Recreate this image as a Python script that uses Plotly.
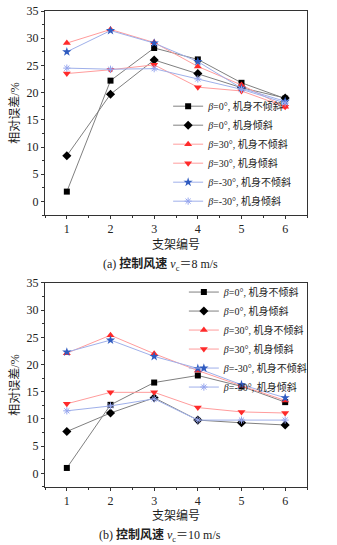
import plotly.graph_objects as go

stands = [1, 2, 3, 4, 5, 6]

# (a) control wind speed 8 m/s
a_b0_upright = [1.8, 22.2, 28.2, 26.1, 21.8, 18.9]
a_b0_tilted = [8.4, 19.7, 26.0, 23.5, 20.9, 19.0]
a_b30_upright = [29.1, 31.6, 29.2, 24.8, 21.4, 17.4]
a_b30_tilted = [23.5, 24.2, 25.1, 21.0, 20.3, 17.4]
a_bm30_upright = [27.5, 31.4, 29.1, 25.7, 20.8, 18.4]
a_bm30_tilted = [24.5, 24.3, 24.4, 22.5, 20.6, 18.1]

# (b) control wind speed 10 m/s
b_b0_upright = [1.0, 12.6, 16.7, 18.0, 16.0, 13.1]
b_b0_tilted = [7.7, 11.1, 13.9, 9.8, 9.3, 8.9]
b_b30_upright = [22.1, 25.4, 22.0, 18.9, 16.1, 13.4]
b_b30_tilted = [12.8, 14.9, 14.9, 12.1, 11.3, 11.1]
b_bm30_upright = [22.3, 24.5, 21.5, 19.3, 16.3, 13.9]
b_bm30_tilted = [11.5, 12.4, 13.7, 9.8, 9.8, 9.8]

names = [
    "<i>β</i>=0°, 机身不倾斜",
    "<i>β</i>=0°, 机身倾斜",
    "<i>β</i>=30°, 机身不倾斜",
    "<i>β</i>=30°, 机身倾斜",
    "<i>β</i>=-30°, 机身不倾斜",
    "<i>β</i>=-30°, 机身倾斜",
]
x_title = "支架编号"
y_title = "相对误差/%"
caption_a = "(a) <b>控制风速</b> <i>v</i><sub>c</sub>＝8 m/s"
caption_b = "(b) <b>控制风速</b> <i>v</i><sub>c</sub>＝10 m/s"

styles = [
    dict(symbol="square", mcolor="#000000", lcolor="#808080", size=6),
    dict(symbol="diamond", mcolor="#000000", lcolor="#808080", size=7),
    dict(symbol="triangle-up", mcolor="#ff2a2a", lcolor="#ff9c9c", size=7),
    dict(symbol="triangle-down", mcolor="#ff2a2a", lcolor="#ff9c9c", size=7),
    dict(symbol="star", mcolor="#2f5bc0", lcolor="#9fb0ea", size=7),
    dict(symbol="asterisk-open", mcolor="#95a5ee", lcolor="#9fb0ea", size=6),
]

FONT = "Liberation Serif, Times New Roman, Noto Sans CJK SC, serif"

fig = go.Figure()

series_sets = [
    ([a_b0_upright, a_b0_tilted, a_b30_upright, a_b30_tilted, a_bm30_upright, a_bm30_tilted], "x", "y", "legend"),
    ([b_b0_upright, b_b0_tilted, b_b30_upright, b_b30_tilted, b_bm30_upright, b_bm30_tilted], "x2", "y2", "legend2"),
]

for data, xa, ya, lg in series_sets:
    for vals, name, st in zip(data, names, styles):
        marker = dict(symbol=st["symbol"], size=st["size"], color=st["mcolor"])
        if st["symbol"].startswith("asterisk"):
            marker["line"] = dict(color=st["mcolor"], width=1)
        else:
            marker["line"] = dict(width=0)
        fig.add_trace(go.Scatter(
            x=stands, y=vals, name=name, mode="lines+markers",
            line=dict(color=st["lcolor"], width=1),
            marker=marker, xaxis=xa, yaxis=ya, legend=lg,
        ))

axis_common = dict(
    showline=True, linecolor="#333333", linewidth=1, mirror=True, automargin=False,
    ticks="outside", ticklen=3, tickcolor="#333333", showgrid=False, zeroline=False,
    tickfont=dict(family=FONT, size=12, color="#222222"),
)

fig.update_layout(
    width=337, height=545,
    margin=dict(l=45, r=30, t=11, b=58, autoexpand=False),
    plot_bgcolor="white", paper_bgcolor="white",
    font=dict(family=FONT, size=12, color="#222222"),
    showlegend=True,
    xaxis=dict(domain=[0, 1], anchor="y", range=[0.5, 6.5], tickvals=stands,
               minor=dict(ticks="outside", ticklen=2, dtick=0.5, tickcolor="#333333"), **axis_common),
    yaxis=dict(domain=[0.5714, 1], anchor="x", range=[-2.5, 35], dtick=5,
               minor=dict(ticks="outside", ticklen=2, dtick=2.5, tickcolor="#333333"),
               title=dict(text=y_title, standoff=4, font=dict(family=FONT, size=12)), **axis_common),
    xaxis2=dict(domain=[0, 1], anchor="y2", range=[0.5, 6.5], tickvals=stands,
                minor=dict(ticks="outside", ticklen=2, dtick=0.5, tickcolor="#333333"), **axis_common),
    yaxis2=dict(domain=[0, 0.4286], anchor="x2", range=[-2.5, 35], dtick=5,
                minor=dict(ticks="outside", ticklen=2, dtick=2.5, tickcolor="#333333"),
                title=dict(text=y_title, standoff=4, font=dict(family=FONT, size=12)), **axis_common),
    legend=dict(x=0.47, y=0.57, xanchor="left", yanchor="bottom", bgcolor="rgba(0,0,0,0)",
                font=dict(family=FONT, size=10), tracegroupgap=0, itemwidth=30),
    legend2=dict(x=0.53, y=0.44, xanchor="left", yanchor="top", bgcolor="rgba(0,0,0,0)",
                 font=dict(family=FONT, size=10), tracegroupgap=0, itemwidth=30),
)

annos = [
    (x_title, 0.5, (487 - 244) / 476, 12),
    (caption_a, 0.44, (487 - 264) / 476, 12),
    (x_title, 0.5, (487 - 515) / 476, 12),
    (caption_b, 0.44, (487 - 535) / 476, 12),
]
for text, x, y, size in annos:
    fig.add_annotation(text=text, x=x, y=y, xref="paper", yref="paper", showarrow=False,
                       xanchor="center", yanchor="middle", font=dict(family=FONT, size=size, color="#222222"))

fig.write_html("out.html", config={"displayModeBar": False},
               post_script="document.body.style.margin='0';document.body.style.padding='0';")
